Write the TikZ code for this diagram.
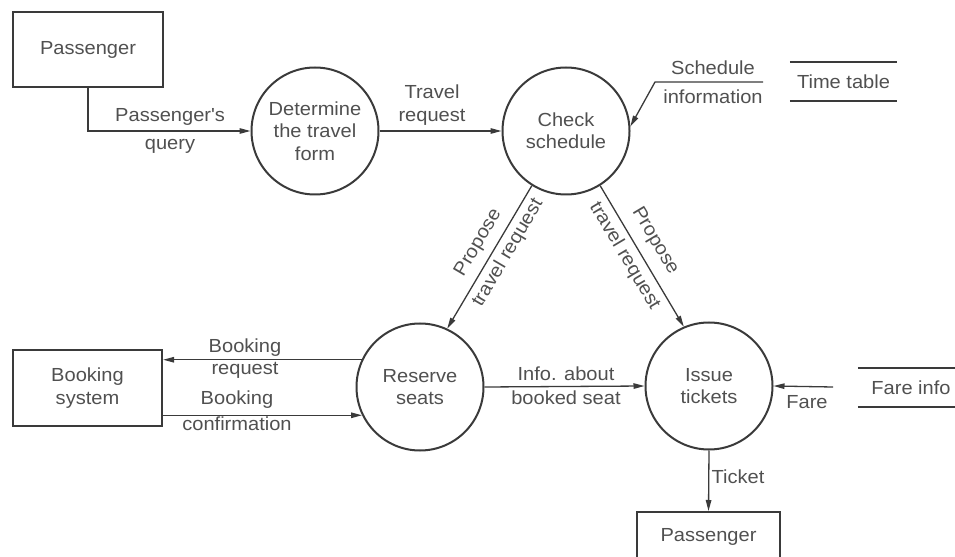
\documentclass[tikz,border=0pt]{standalone}
\usepackage{fontspec}
\setmainfont{Liberation Sans}[FakeStretch=1.06]
\usetikzlibrary{arrows.meta}
\definecolor{ink}{HTML}{3A3A3A}
\definecolor{txt}{HTML}{505050}
\begin{document}
\begin{tikzpicture}[x=1bp,y=-1bp,
  every node/.style={font=\fontsize{19}{22.5}\selectfont, text=txt, inner sep=0pt},
  proc/.style={circle, draw=ink, line width=2bp, minimum size=127bp, align=center},
  ext/.style={rectangle, draw=ink, line width=2.2bp, align=center},
  store/.style={minimum height=39bp},
  storeline/.style={draw=ink, line width=2bp},
  flow/.style={draw=ink, line width=1.3bp, -{Triangle[length=11bp,width=5.5bp]}},
  lbl/.style={align=center}]
\useasboundingbox (0,0) rectangle (955,557);

% external entities
\node[ext, minimum width=150bp, minimum height=75bp] (p1) at (88,49.5) {Passenger};
\node[ext, minimum width=149bp, minimum height=76bp] (bs) at (87.5,388) {Booking\\system};
\node[ext, minimum width=143bp, minimum height=70bp, anchor=north] (p2) at (708.5,511) {};
\node (p2txt) at (708.5,537) {Passenger};

% processes
\node[proc] (c1) at (315,131) {Determine\\the travel\\form};
\node[proc] (c2) at (566,131) {Check\\schedule};
\node[proc] (c3) at (420,387) {Reserve\\seats};
\node[proc] (c4) at (709,386) {Issue\\tickets};

% data stores
\node[store, minimum width=107bp] (tt) at (843.5,81.5) {Time table};
\draw[storeline] (tt.north west) -- (tt.north east) (tt.south west) -- (tt.south east);
\node[store, minimum width=106bp] (fi) at (911,387.5) {Fare info};
\draw[storeline] (fi.north west) -- (fi.north east) (fi.south west) -- (fi.south east);

% free ends of flows coming from the stores
\coordinate (si) at (763,82);
\coordinate (sbend) at (655,82);
\coordinate (fare) at (833,387);

% flows
\draw[flow] (p1.south) |- (c1.west);
\node[lbl] (l1) at (170,131) {Passenger\textquotesingle s\\[5bp]query};

\draw[flow] (c1.east) -- (c2.west);
\node[lbl] (l2) at (432,105) {Travel\\request};

\draw[flow] (si) -- (sbend) -- (c2.4);
\node (l3a) at (713,68) {Schedule};
\node (l3b) at (713,97) {information};

\draw[flow] (c2.238) -- (c3.65);
\node[rotate=59.5] (l4a) at (478.5,243) {Propose};
\node[rotate=59.5] (l4b) at (508,253) {travel request};

\draw[flow] (c2.302) -- (c4.113);
\node[rotate=-59.3] (l5a) at (655,241) {Propose};
\node[rotate=-59.3] (l5b) at (624.5,256) {travel request};

\draw[flow] (c3.155.6) -- (c3.155.6 -| bs.east);
\node (l6a) at (245,348) {Booking};
\node (l6b) at (245,370) {request};

\draw[flow] (c3.206.4 -| bs.east) -- (c3.206.4);
\node (l7a) at (237,400) {Booking};
\node (l7b) at (237,424) {confirmation};

\draw[flow] (c3.east) -- (c4.west);
\node (l8a) at (566,374) {Info. about};
\node (l8b) at (566,398) {booked seat};

\draw[flow] (fare) -- (c4.east);
\node (l9) at (807,402) {Fare};

\draw[flow] (c4.south) -- (p2.north);
\node (l10) at (738,477) {Ticket};
\end{tikzpicture}
\end{document}
